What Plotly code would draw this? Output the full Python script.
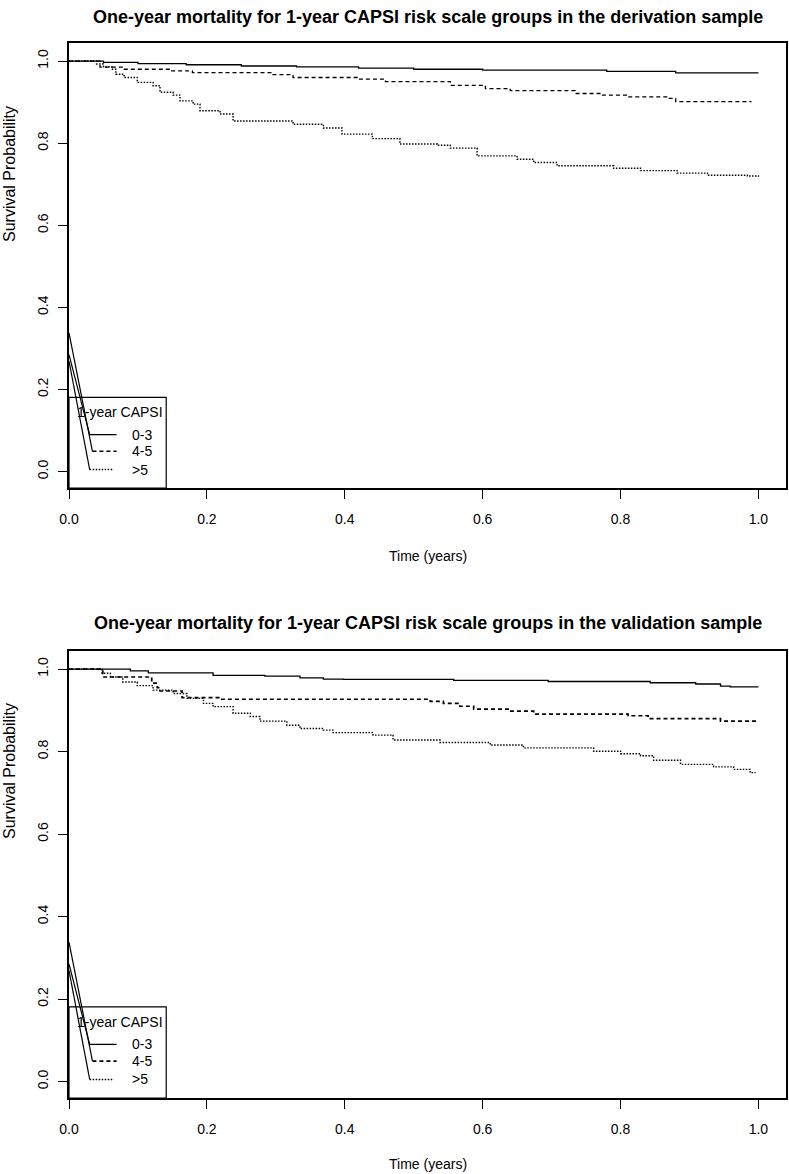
import plotly.graph_objects as go

W, H = 789, 1174

# ---------------- data ----------------
titles = [
    "One-year mortality for 1-year CAPSI risk scale groups in the derivation sample",
    "One-year mortality for 1-year CAPSI risk scale groups in the validation sample",
]
groups = ["0-3", "4-5", ">5"]
legend_title = "1-year CAPSI"
x_ticks = [0.0, 0.2, 0.4, 0.6, 0.8, 1.0]
x_tick_labels = ["0.0", "0.2", "0.4", "0.6", "0.8", "1.0"]
y_ticks = [0.0, 0.2, 0.4, 0.6, 0.8, 1.0]
y_tick_labels = ["0.0", "0.2", "0.4", "0.6", "0.8", "1.0"]

# derivation sample
der_low_t = [0, 0.05, 0.10, 0.17, 0.25, 0.33, 0.42, 0.50, 0.60, 0.78, 0.88, 1.0]
der_low_s = [1.0, 0.997, 0.994, 0.991, 0.988, 0.986, 0.983, 0.980, 0.978, 0.975, 0.971, 0.971]
der_mid_t = [0, 0.045, 0.08, 0.147, 0.179, 0.296, 0.325, 0.418, 0.459, 0.553, 0.604, 0.64,
             0.734, 0.773, 0.81, 0.868, 0.88, 0.99]
der_mid_s = [1.0, 0.985, 0.980, 0.976, 0.972, 0.967, 0.960, 0.956, 0.950, 0.941, 0.933, 0.928,
             0.921, 0.917, 0.913, 0.909, 0.901, 0.901]
der_high_t = [0, 0.04, 0.05, 0.062, 0.068, 0.08, 0.099, 0.122, 0.132, 0.151, 0.161, 0.18, 0.19,
              0.219, 0.238, 0.325, 0.369, 0.396, 0.44, 0.48, 0.534, 0.553, 0.592, 0.65, 0.674,
              0.708, 0.79, 0.829, 0.882, 0.926, 0.984, 1.0]
der_high_s = [1.0, 0.993, 0.986, 0.980, 0.968, 0.960, 0.948, 0.940, 0.924, 0.917, 0.903, 0.895,
              0.879, 0.871, 0.854, 0.846, 0.837, 0.822, 0.811, 0.798, 0.795, 0.788, 0.769, 0.761,
              0.753, 0.745, 0.739, 0.733, 0.727, 0.722, 0.720, 0.718]

# validation sample
val_low_t = [0, 0.089, 0.115, 0.209, 0.284, 0.335, 0.369, 0.398, 0.558, 0.695, 0.843, 0.909,
             0.945, 0.959, 1.0]
val_low_s = [1.0, 0.996, 0.991, 0.985, 0.983, 0.979, 0.976, 0.975, 0.973, 0.970, 0.967, 0.964,
             0.959, 0.957, 0.957]
val_mid_t = [0, 0.049, 0.12, 0.128, 0.132, 0.164, 0.219, 0.524, 0.543, 0.567, 0.587, 0.637,
             0.674, 0.811, 0.84, 0.945, 0.999]
val_mid_s = [1.0, 0.981, 0.966, 0.955, 0.947, 0.931, 0.927, 0.922, 0.917, 0.910, 0.903, 0.898,
             0.891, 0.887, 0.880, 0.874, 0.874]
val_high_t = [0, 0.048, 0.06, 0.078, 0.099, 0.122, 0.151, 0.171, 0.195, 0.209, 0.238, 0.263,
              0.277, 0.316, 0.335, 0.369, 0.383, 0.441, 0.47, 0.538, 0.611, 0.659, 0.761, 0.80,
              0.829, 0.848, 0.887, 0.935, 0.964, 0.988, 0.996]
val_high_s = [1.0, 0.990, 0.981, 0.969, 0.960, 0.949, 0.941, 0.929, 0.917, 0.909, 0.893, 0.885,
              0.874, 0.864, 0.856, 0.852, 0.846, 0.840, 0.828, 0.822, 0.816, 0.809, 0.801, 0.795,
              0.790, 0.779, 0.769, 0.763, 0.757, 0.749, 0.749]

panels_t = [[der_low_t, der_mid_t, der_high_t], [val_low_t, val_mid_t, val_high_t]]
panels_s = [[der_low_s, der_mid_s, der_high_s], [val_low_s, val_mid_s, val_high_s]]

# ---------------- styling / layout ----------------
FONT = "Liberation Sans"
dashes = ["solid", "4px,3px", "1.5px,1.5px"]
widths = [1.3, 1.3, 1.4]
x_range = [0, 1.04]
y_range = [-0.04, 1.044]

# legend geometry in data units (drawn through the axes)
leg_box = dict(x0=0.0, x1=0.141, y0=-0.04, y1=0.181)
leg_line_y = [0.090, 0.0495, 0.005]
leg_line_x0 = [0.030, 0.034, 0.030]
leg_line_x1 = [0.069, 0.069, 0.065]
leg_leader_y = [0.285, 0.338, 0.269]
leg_text_x = 0.089
leg_title_pos = (0.009, 0.144)

# plot boxes in pixels: (left, right, top, bottom, title y, xtitle y, ytitle y)
boxes = [(69, 786, 43, 488, 17, 556, 174), (69, 786, 651, 1098, 623, 1164, 771)]


def fx(p):
    return p / W


def fy(p):
    return 1 - p / H


fig = go.Figure()
annotations = []
shapes = []

for i in range(2):
    xa = "x" if i == 0 else "x2"
    ya = "y" if i == 0 else "y2"
    for g in range(3):
        fig.add_trace(go.Scatter(
            x=panels_t[i][g], y=panels_s[i][g], mode="lines", line_shape="hv",
            line=dict(color="black", width=widths[g] + (0.4 if (i == 1 and g == 1) else 0),
                      dash=dashes[g]),
            xaxis=xa, yaxis=ya, showlegend=False, hoverinfo="skip"))
        # legend sample line
        fig.add_trace(go.Scatter(
            x=[leg_line_x0[g], leg_line_x1[g]], y=[leg_line_y[g], leg_line_y[g]], mode="lines",
            line=dict(color="black", width=widths[g] + (0.6 if (i == 1 and g == 1) else 0),
                      dash=dashes[g]),
            xaxis=xa, yaxis=ya, showlegend=False, hoverinfo="skip"))
        # leader line from the axis to the legend sample
        fig.add_trace(go.Scatter(
            x=[0.0, leg_line_x0[g]], y=[leg_leader_y[g], leg_line_y[g]], mode="lines",
            line=dict(color="black", width=1.2),
            xaxis=xa, yaxis=ya, showlegend=False, hoverinfo="skip"))
        annotations.append(dict(
            x=leg_text_x, y=leg_line_y[g], xref=xa, yref=ya, text=groups[g], showarrow=False,
            xanchor="left", yanchor="middle", font=dict(family=FONT, size=14, color="black")))
    annotations.append(dict(
        x=leg_title_pos[0], y=leg_title_pos[1], xref=xa, yref=ya, text=legend_title,
        showarrow=False, xanchor="left", yanchor="middle",
        font=dict(family=FONT, size=14, color="black")))
    shapes.append(dict(type="rect", xref=xa, yref=ya, line=dict(color="black", width=1.2),
                       **leg_box))

    l, r, t, b, ty, xty, yty = boxes[i]
    annotations.append(dict(
        x=fx((l + r) / 2), y=fy(ty), xref="paper", yref="paper", text="<b>%s</b>" % titles[i],
        showarrow=False, xanchor="center", yanchor="middle",
        font=dict(family=FONT, size=18, color="black")))
    annotations.append(dict(
        x=fx((l + r) / 2), y=fy(xty), xref="paper", yref="paper", text="Time (years)",
        showarrow=False, xanchor="center", yanchor="middle",
        font=dict(family=FONT, size=14, color="black")))
    annotations.append(dict(
        x=fx(9), y=fy(yty), xref="paper", yref="paper", text="Survival Probability",
        showarrow=False, xanchor="center", yanchor="middle", textangle=-90,
        font=dict(family=FONT, size=16, color="black")))

    axis_common = dict(showgrid=False, zeroline=False, showline=True, mirror=True,
                       linecolor="black", linewidth=1.6, ticks="outside", ticklen=9,
                       tickwidth=1.2, tickcolor="black", automargin=False,
                       tickfont=dict(family=FONT, size=14, color="black"))
    xkey = "xaxis" if i == 0 else "xaxis2"
    ykey = "yaxis" if i == 0 else "yaxis2"
    fig.layout[xkey] = dict(domain=[fx(l), fx(r)], range=x_range, anchor=ya,
                            tickvals=x_ticks, ticktext=x_tick_labels, ticklabelstandoff=8,
                            **axis_common)
    fig.layout[ykey] = dict(domain=[fy(b), fy(t)], range=y_range, anchor=xa,
                            tickvals=y_ticks, ticktext=y_tick_labels, tickangle=-90,
                            ticklabelstandoff=5, **axis_common)

fig.update_layout(width=W, height=H, margin=dict(l=0, r=0, t=0, b=0, pad=0),
                  paper_bgcolor="white", plot_bgcolor="white",
                  annotations=annotations, shapes=shapes, showlegend=False,
                  font=dict(family=FONT, color="black"))

# remove the browser's default 8px page margin so the figure fills the window exactly
fig.write_html("out.html", config={"displayModeBar": False},
               post_script="document.body.style.margin='0';document.body.style.overflow='hidden';")
